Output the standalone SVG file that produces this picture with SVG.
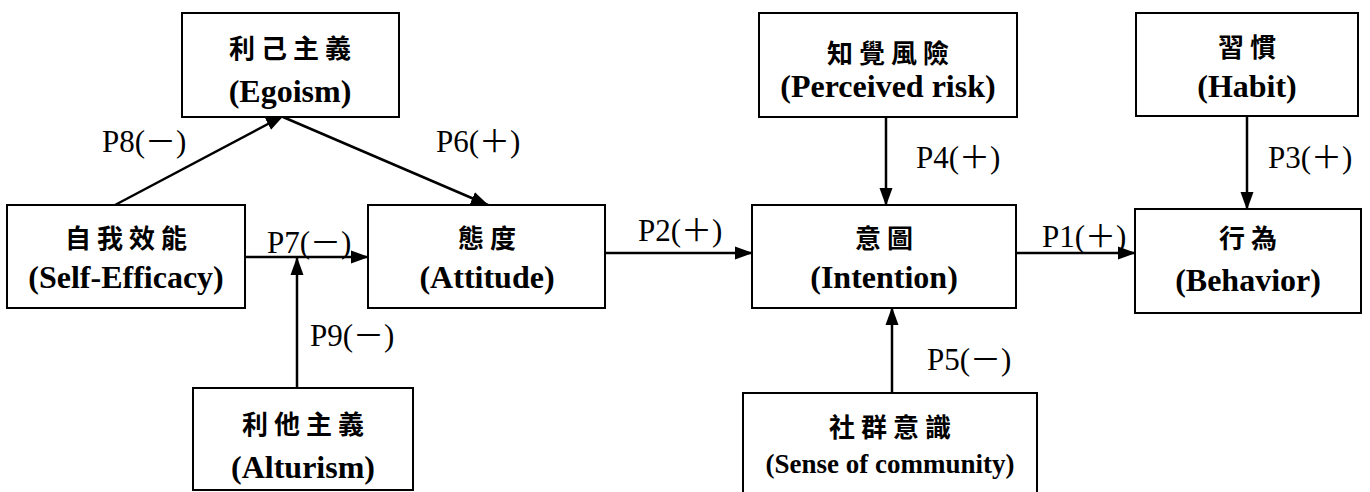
<svg xmlns="http://www.w3.org/2000/svg" width="1370" height="492" viewBox="0 0 1370 492">
  <defs>
    <marker id="arrow" markerUnits="userSpaceOnUse" markerWidth="18" markerHeight="16" viewBox="0 0 18 16" refX="17" refY="8" orient="auto">
      <path d="M0,1.5 L18,8 L0,14.5 Z" fill="#000"/>
    </marker>
  </defs>

  <rect width="1370" height="492" fill="#fff"/>

  <!-- connectors with their path labels -->
  <g id="connectors" stroke="#000" stroke-width="2.5" fill="none" marker-end="url(#arrow)">
    <line x1="115" y1="205" x2="283" y2="116"/>
    <line x1="283" y1="117" x2="488" y2="205"/>
    <line x1="245" y1="257" x2="368" y2="257"/>
    <line x1="297" y1="388" x2="297" y2="258"/>
    <line x1="605" y1="253" x2="752" y2="253"/>
    <line x1="886" y1="117" x2="886" y2="205"/>
    <line x1="892" y1="393" x2="892" y2="308"/>
    <line x1="1247" y1="116" x2="1247" y2="209"/>
    <line x1="1016" y1="253" x2="1135" y2="253"/>
  </g>
  <g id="path-labels" font-family="'Liberation Serif', 'Noto Sans CJK TC', serif" font-size="31" fill="#000">
    <text x="102" y="152">P8(－)</text>
    <text x="436" y="152">P6(＋)</text>
    <text x="267" y="253">P7(－)</text>
    <text x="310" y="346">P9(－)</text>
    <text x="638" y="241">P2(＋)</text>
    <text x="916" y="168">P4(＋)</text>
    <text x="927" y="370">P5(－)</text>
    <text x="1268" y="168">P3(＋)</text>
    <text x="1042" y="247">P1(＋)</text>
  </g>

  <!-- construct boxes: Chinese name above, English name below -->
  <g id="nodes" fill="#fff" stroke="#000" stroke-width="2">
    <g id="egoism">
      <rect x="182" y="13" width="217" height="104"/>
      <text x="293" y="58" fill="#000" stroke="none" text-anchor="middle" font-family="'Noto Sans CJK TC', 'Noto Sans CJK SC', sans-serif" font-size="26" font-weight="bold" letter-spacing="6">利己主義</text>
      <text x="290" y="102" fill="#000" stroke="none" text-anchor="middle" font-family="'Liberation Serif', serif" font-size="32" font-weight="bold">(Egoism)</text>
    </g>

    <g id="self-efficacy">
      <rect x="7" y="205" width="238" height="103"/>
      <text x="129" y="248" fill="#000" stroke="none" text-anchor="middle" font-family="'Noto Sans CJK TC', 'Noto Sans CJK SC', sans-serif" font-size="26" font-weight="bold" letter-spacing="6">自我效能</text>
      <text x="126" y="288" fill="#000" stroke="none" text-anchor="middle" font-family="'Liberation Serif', serif" font-size="32" font-weight="bold">(Self-Efficacy)</text>
    </g>

    <g id="attitude">
      <rect x="368" y="205" width="237" height="103"/>
      <text x="490" y="248" fill="#000" stroke="none" text-anchor="middle" font-family="'Noto Sans CJK TC', 'Noto Sans CJK SC', sans-serif" font-size="26" font-weight="bold" letter-spacing="6">態度</text>
      <text x="487" y="288" fill="#000" stroke="none" text-anchor="middle" font-family="'Liberation Serif', serif" font-size="32" font-weight="bold">(Attitude)</text>
    </g>

    <g id="alturism">
      <rect x="193" y="388" width="220" height="102"/>
      <text x="306" y="434" fill="#000" stroke="none" text-anchor="middle" font-family="'Noto Sans CJK TC', 'Noto Sans CJK SC', sans-serif" font-size="26" font-weight="bold" letter-spacing="6">利他主義</text>
      <text x="303" y="478" fill="#000" stroke="none" text-anchor="middle" font-family="'Liberation Serif', serif" font-size="32" font-weight="bold">(Alturism)</text>
    </g>

    <g id="intention">
      <rect x="752" y="205" width="264" height="103"/>
      <text x="887" y="248" fill="#000" stroke="none" text-anchor="middle" font-family="'Noto Sans CJK TC', 'Noto Sans CJK SC', sans-serif" font-size="26" font-weight="bold" letter-spacing="6">意圖</text>
      <text x="884" y="288" fill="#000" stroke="none" text-anchor="middle" font-family="'Liberation Serif', serif" font-size="32" font-weight="bold">(Intention)</text>
    </g>

    <g id="perceived-risk">
      <rect x="759" y="13" width="258" height="104"/>
      <text x="891" y="63" fill="#000" stroke="none" text-anchor="middle" font-family="'Noto Sans CJK TC', 'Noto Sans CJK SC', sans-serif" font-size="26" font-weight="bold" letter-spacing="6">知覺風險</text>
      <text x="888" y="97" fill="#000" stroke="none" text-anchor="middle" font-family="'Liberation Serif', serif" font-size="32" font-weight="bold">(Perceived risk)</text>
    </g>

    <g id="sense-of-community">
      <rect x="743" y="393" width="294" height="110"/>
      <text x="893" y="437" fill="#000" stroke="none" text-anchor="middle" font-family="'Noto Sans CJK TC', 'Noto Sans CJK SC', sans-serif" font-size="26" font-weight="bold" letter-spacing="6">社群意識</text>
      <text x="890" y="473" fill="#000" stroke="none" text-anchor="middle" font-family="'Liberation Serif', serif" font-size="27" font-weight="bold">(Sense of community)</text>
    </g>

    <g id="habit">
      <rect x="1136" y="13" width="222" height="103"/>
      <text x="1250" y="57" fill="#000" stroke="none" text-anchor="middle" font-family="'Noto Sans CJK TC', 'Noto Sans CJK SC', sans-serif" font-size="26" font-weight="bold" letter-spacing="6">習慣</text>
      <text x="1247" y="97" fill="#000" stroke="none" text-anchor="middle" font-family="'Liberation Serif', serif" font-size="32" font-weight="bold">(Habit)</text>
    </g>

    <g id="behavior">
      <rect x="1135" y="209" width="226" height="104"/>
      <text x="1251" y="248" fill="#000" stroke="none" text-anchor="middle" font-family="'Noto Sans CJK TC', 'Noto Sans CJK SC', sans-serif" font-size="26" font-weight="bold" letter-spacing="6">行為</text>
      <text x="1248" y="291" fill="#000" stroke="none" text-anchor="middle" font-family="'Liberation Serif', serif" font-size="32" font-weight="bold">(Behavior)</text>
    </g>
  </g>
</svg>
